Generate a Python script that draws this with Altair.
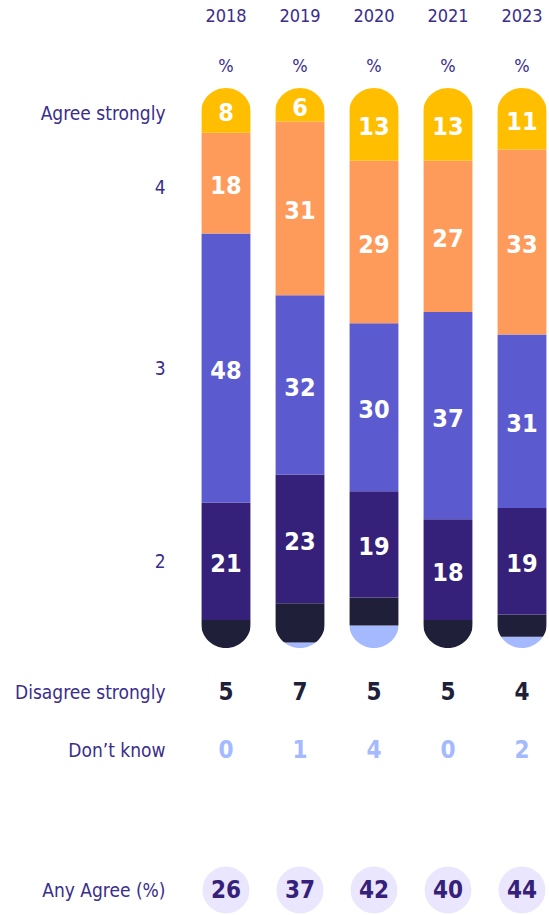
import altair as alt
import pandas as pd

# ---------------- data ----------------
YEARS = ["2018", "2019", "2020", "2021", "2023"]
CATEGORIES = ["Agree strongly", "4", "3", "2", "Disagree strongly", "Don\u2019t know"]  # top -> bottom
AGREE_STRONGLY = [8, 6, 13, 13, 11]
FOUR = [18, 31, 29, 27, 33]
THREE = [48, 32, 30, 37, 31]
TWO = [21, 23, 19, 18, 19]
DISAGREE_STRONGLY = [5, 7, 5, 5, 4]
DONT_KNOW = [0, 1, 4, 0, 2]
ANY_AGREE = [26, 37, 42, 40, 44]

SERIES = [AGREE_STRONGLY, FOUR, THREE, TWO, DISAGREE_STRONGLY, DONT_KNOW]
LABELLED = ["Agree strongly", "4", "3", "2"]

# ---------------- style ----------------
COLORS = ["#FFBE00", "#FF9B5A", "#5B5BCF", "#35217A", "#1F1F3A", "#A4B9FF"]
TEXT_PURPLE = "#3A2D8C"
CIRCLE_FILL = "#EAE6FD"
FONT = "Liberation Sans Narrow, DejaVu Sans Condensed, sans-serif"
# axis label positions (in % units of the bar scale) for the left row labels
LEFT_LABEL_POS = {"Agree strongly": 95.5, "4": 82.3, "3": 50.0, "2": 15.4}

# ---------------- tables ----------------
rows = []
for i, yr in enumerate(YEARS):
    cum = 0
    for cat, ser in reversed(list(zip(CATEGORIES, SERIES))):
        v = ser[i]
        rows.append({"year": yr, "cat": cat, "value": v, "y0": cum, "y1": cum + v,
                     "mid": cum + v / 2})
        cum += v
df = pd.DataFrame(rows)
df_lab = df[df["cat"].isin(LABELLED)]

df_mask = pd.DataFrame({"year": YEARS, "top": [100] * len(YEARS), "bottom": [0] * len(YEARS)})

df_head = pd.DataFrame(
    [{"year": y, "row": "year", "txt": y} for y in YEARS]
    + [{"year": y, "row": "pct", "txt": "%"} for y in YEARS]
)
df_rows = pd.DataFrame(
    [{"year": y, "row": "Disagree strongly", "value": v} for y, v in zip(YEARS, DISAGREE_STRONGLY)]
    + [{"year": y, "row": "Don\u2019t know", "value": v} for y, v in zip(YEARS, DONT_KNOW)]
)
df_any = pd.DataFrame({"year": YEARS, "row": ["Any Agree (%)"] * len(YEARS), "value": ANY_AGREE})

# ---------------- scales ----------------
W, H = 350, 915
PAD_INNER, PAD_OUTER = 0.34, 0.035
step = W / (len(YEARS) - PAD_INNER + 2 * PAD_OUTER)
bw = step * (1 - PAD_INNER)

XS = alt.Scale(domain=YEARS, paddingInner=PAD_INNER, paddingOuter=PAD_OUTER)
YS = alt.Scale(domain=[0, 100], range=[648, 88], nice=False, zero=False)
x_enc = alt.X("year:N", scale=XS, axis=None)

axis_common = dict(orient="left", domain=False, ticks=False, tickSize=0, grid=False,
                   labelPadding=34, labelFont=FONT, labelFontSize=19,
                   labelColor=TEXT_PURPLE, title=None, labelLimit=300)

expr = " : ".join(f"datum.value == {v} ? '{k}'" for k, v in LEFT_LABEL_POS.items()) + " : ''"

bars = alt.Chart(df).mark_bar(strokeWidth=0).encode(
    x=x_enc,
    y=alt.Y("y0:Q", scale=YS,
            axis=alt.Axis(values=list(LEFT_LABEL_POS.values()), labelExpr=expr, **axis_common)),
    y2="y1:Q",
    color=alt.Color("cat:N", scale=alt.Scale(domain=CATEGORIES, range=COLORS), legend=None),
)

msize = (bw + 1.2) ** 2
TOP_MASK = "M -1 1 L -1 0 L 1 0 L 1 1 A 1 1 0 0 0 -1 1 Z"
BOT_MASK = "M -1 -1 L -1 0 L 1 0 L 1 -1 A 1 1 0 0 1 -1 -1 Z"
mask_top = alt.Chart(df_mask).mark_point(
    shape=TOP_MASK, filled=True, fill="white", opacity=1, strokeWidth=0, size=msize
).encode(x=x_enc, y=alt.Y("top:Q", scale=YS))
mask_bot = alt.Chart(df_mask).mark_point(
    shape=BOT_MASK, filled=True, fill="white", opacity=1, strokeWidth=0, size=msize
).encode(x=x_enc, y=alt.Y("bottom:Q", scale=YS))

seg_text = alt.Chart(df_lab).mark_text(
    font=FONT, fontSize=25, fontWeight="bold", color="white", baseline="middle", dy=3
).encode(x=x_enc, y=alt.Y("mid:Q", scale=YS), text="value:Q")

bar_group = alt.layer(bars, mask_top, mask_bot, seg_text)

head = alt.Chart(df_head).mark_text(
    font=FONT, fontSize=18, color=TEXT_PURPLE, baseline="middle"
).encode(
    x=x_enc,
    y=alt.Y("row:N", scale=alt.Scale(type="point", domain=["year", "pct"], range=[17, 67], padding=0),
            axis=None),
    text="txt:N",
)

ROW_SCALE = alt.Scale(type="point", domain=["Disagree strongly", "Don\u2019t know"], range=[692, 750], padding=0)
row_colors = alt.Scale(domain=["Disagree strongly", "Don\u2019t know"], range=[COLORS[4], COLORS[5]])
rows_text = alt.Chart(df_rows).mark_text(
    font=FONT, fontSize=24, fontWeight="bold", baseline="middle", dy=1
).encode(
    x=x_enc,
    y=alt.Y("row:N", scale=ROW_SCALE, axis=alt.Axis(**axis_common)),
    text="value:Q",
    color=alt.Color("row:N", scale=row_colors, legend=None),
)

ANY_SCALE = alt.Scale(type="point", domain=["Any Agree (%)"], range=[870, 910], padding=0)
any_circle = alt.Chart(df_any).mark_point(
    filled=True, fill=CIRCLE_FILL, opacity=1, strokeWidth=0, size=2200, shape="circle"
).encode(x=x_enc, y=alt.Y("row:N", scale=ANY_SCALE, axis=alt.Axis(**axis_common)))
any_text = alt.Chart(df_any).mark_text(
    font=FONT, fontSize=24, fontWeight="bold", color=COLORS[3], baseline="middle", dy=1
).encode(x=x_enc, y=alt.Y("row:N", scale=ANY_SCALE), text="value:Q")
any_group = alt.layer(any_circle, any_text)

chart = alt.layer(bar_group, head, rows_text, any_group).resolve_scale(
    y="independent", color="independent"
).properties(
    width=W, height=H,
    autosize=alt.AutoSizeParams(type="none"),
    padding={"left": 199, "right": 0, "top": 0, "bottom": 0},
).configure_view(stroke=None)

chart.save("out.html", embed_options={"renderer": "svg", "actions": False})
